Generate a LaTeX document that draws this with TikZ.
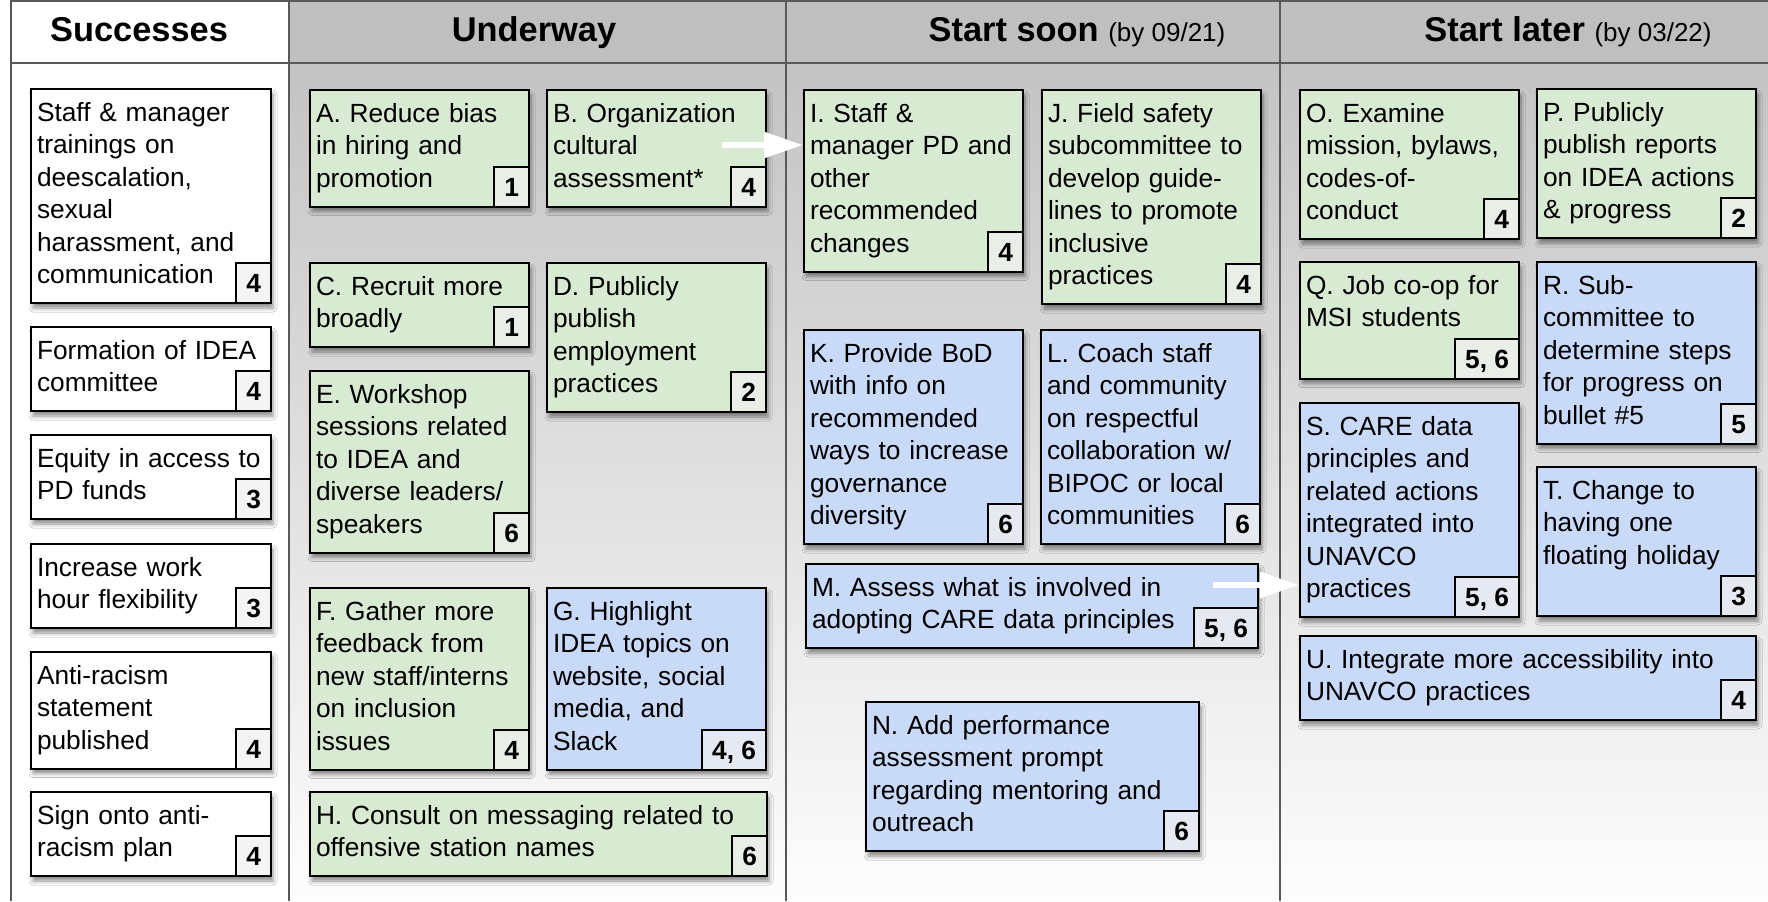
\documentclass[tikz,border=0pt]{standalone}
\usepackage{fontspec}
\setmainfont{Liberation Sans}
\usetikzlibrary{arrows.meta,shadows.blur}

\definecolor{goalgreen}{HTML}{D9EAD3}
\definecolor{planblue}{HTML}{C9DAF8}
\definecolor{headgray}{HTML}{BFBFBF}
\definecolor{rulegray}{HTML}{595959}
\definecolor{bodytop}{HTML}{C3C3C3}
\definecolor{bodymid}{HTML}{D9D9D9}
\definecolor{bodybot}{HTML}{FDFDFD}

\newcommand\cardfont{\fontsize{13.15pt}{16.25pt}\selectfont}
\newcommand\badgefont{\fontsize{13.15pt}{16pt}\selectfont\bfseries}
\newcommand\colheadfont{\fontsize{17.2pt}{20pt}\selectfont\bfseries}
\newcommand\subheadfont{\fontsize{13pt}{16pt}\selectfont\mdseries}

\begin{document}
\begin{tikzpicture}
[
	              x = 0.5pt,
	              y = -0.5pt,
	   rule/.style = { draw=rulegray, line width=1pt },
	colhead/.style = { anchor=base, font=\colheadfont },
	   card/.style = { draw=black, line width=1pt, fill=#1, anchor=north west,
	                   align=left, text width=103.5pt, inner xsep=3pt, inner ysep=4.75pt,
	                   font=\cardfont, execute at begin node=\strut, execute at end node=\strut,
	                   blur shadow={shadow xshift=1pt, shadow yshift=-2.5pt,
	                                shadow blur radius=2pt, shadow opacity=45} },
	 card/.default = white,
	   done/.style = { card=white, text width=114pt },
	  badge/.style = { draw=black, line width=1pt, fill=black!6, fill opacity=.7, text opacity=1,
	                   anchor=south east, minimum width=16pt, minimum height=20pt,
	                   inner xsep=5pt, inner ysep=0pt, text height=9.6pt, text depth=0pt,
	                   font=\badgefont },
	   flow/.style = { draw=white, line width=3pt, -{Triangle[width=12.5pt, length=19.5pt]},
	                   preaction={draw=black!25, transform canvas={shift={(0.8pt,-1pt)}}} }
]
	\useasboundingbox (0,0) rectangle (1768,901);

	% column backgrounds
	\fill [white]    (0,0)   rectangle (1768,901);
	\fill [headgray] (289,0) rectangle (1768,63);
	\shade [top color=bodytop, middle color=bodymid, bottom color=bodybot]
		(289,63) rectangle (1768,901);

	% table rules
	\draw [rule] (11,0.5) -- (1768,0.5) (11,63) -- (1768,63);
	\draw [rule] (11,0) -- (11,901) (289,0) -- (289,901)
		(786,0) -- (786,901) (1280,0) -- (1280,901);

	% column heads
	\node (succ)  at (139,41)  [colhead] {Successes};
	\node (under) at (534,41)  [colhead] {Underway};
	\node (soon)  at (1077,41) [colhead] {Start soon {\subheadfont (by 09/21)}};
	\node (later) at (1568,41) [colhead] {Start later {\subheadfont (by 03/22)}};

	% successes
	\node (s1)  at (30,88)  [done] {Staff \& manager\\trainings on\\deescalation,\\sexual\\harassment, and\\communication};
	\node (s1n) at (s1.south east) [badge] {4};
	\node (s2)  at (30,326) [done] {Formation of IDEA\\committee};
	\node (s2n) at (s2.south east) [badge] {4};
	\node (s3)  at (30,434) [done] {Equity in access to\\PD funds};
	\node (s3n) at (s3.south east) [badge] {3};
	\node (s4)  at (30,543) [done] {Increase work\\hour flexibility};
	\node (s4n) at (s4.south east) [badge] {3};
	\node (s5)  at (30,651) [done] {Anti-racism\\statement\\published};
	\node (s5n) at (s5.south east) [badge] {4};
	\node (s6)  at (30,791) [done] {Sign onto anti-\\racism plan};
	\node (s6n) at (s6.south east) [badge] {4};

	% underway
	\node (A)  at (309,89)  [card=goalgreen] {A. Reduce bias\\in hiring and\\promotion};
	\node (An) at (A.south east) [badge] {1};
	\node (B)  at (546,89)  [card=goalgreen] {B. Organization\\cultural\\assessment*};
	\node (Bn) at (B.south east) [badge] {4};
	\node (C)  at (309,262) [card=goalgreen] {C. Recruit more\\broadly};
	\node (Cn) at (C.south east) [badge] {1};
	\node (D)  at (546,262) [card=goalgreen] {D. Publicly\\publish\\employment\\practices};
	\node (Dn) at (D.south east) [badge] {2};
	\node (E)  at (309,370) [card=goalgreen] {E. Workshop\\sessions related\\to IDEA and\\diverse leaders/\\speakers};
	\node (En) at (E.south east) [badge] {6};
	\node (F)  at (309,587) [card=goalgreen] {F. Gather more\\feedback from\\new staff/interns\\on inclusion\\issues};
	\node (Fn) at (F.south east) [badge] {4};
	\node (G)  at (546,587) [card=planblue] {G. Highlight\\IDEA topics on\\website, social\\media, and\\Slack};
	\node (Gn) at (G.south east) [badge] {4, 6};
	\node (H)  at (309,791) [card=goalgreen, text width=222.5pt] {H. Consult on messaging related to\\offensive station names};
	\node (Hn) at (H.south east) [badge] {6};

	% start soon
	\node (I)  at (803,89)   [card=goalgreen] {I. Staff \&\\manager PD and\\other\\recommended\\changes};
	\node (In) at (I.south east) [badge] {4};
	\node (J)  at (1041,89)  [card=goalgreen] {J. Field safety\\subcommittee to\\develop guide-\\lines to promote\\inclusive\\practices};
	\node (Jn) at (J.south east) [badge] {4};
	\node (K)  at (803,329)  [card=planblue] {K. Provide BoD\\with info on\\recommended\\ways to increase\\governance\\diversity};
	\node (Kn) at (K.south east) [badge] {6};
	\node (L)  at (1040,329) [card=planblue] {L. Coach staff\\and community\\on respectful\\collaboration w/\\BIPOC or local\\communities};
	\node (Ln) at (L.south east) [badge] {6};
	\node (M)  at (805,563)  [card=planblue, text width=220pt] {M. Assess what is involved in\\adopting CARE data principles};
	\node (Mn) at (M.south east) [badge] {5, 6};
	\node (N)  at (865,701)  [card=planblue, text width=160.5pt] {N. Add performance\\assessment prompt\\regarding mentoring and\\outreach};
	\node (Nn) at (N.south east) [badge] {6};

	% start later
	\node (O)  at (1299,89)  [card=goalgreen] {O. Examine\\mission, bylaws,\\codes-of-\\conduct};
	\node (On) at (O.south east) [badge] {4};
	\node (P)  at (1536,88)  [card=goalgreen] {P. Publicly\\publish reports\\on IDEA actions\\\& progress};
	\node (Pn) at (P.south east) [badge] {2};
	\node (Q)  at (1299,261) [card=goalgreen] {Q. Job co-op for\\MSI students\\};
	\node (Qn) at (Q.south east) [badge] {5, 6};
	\node (R)  at (1536,261) [card=planblue] {R. Sub-\\committee to\\determine steps\\for progress on\\bullet \#5};
	\node (Rn) at (R.south east) [badge] {5};
	\node (S)  at (1299,402) [card=planblue] {S. CARE data\\principles and\\related actions\\integrated into\\UNAVCO\\practices};
	\node (Sn) at (S.south east) [badge] {5, 6};
	\node (T)  at (1536,466) [card=planblue] {T. Change to\\having one\\floating holiday\\};
	\node (Tn) at (T.south east) [badge] {3};
	\node (U)  at (1299,635) [card=planblue, text width=222pt] {U. Integrate more accessibility into\\UNAVCO practices};
	\node (Un) at (U.south east) [badge] {4};

	% hand-offs
	\coordinate (bout) at (722,145);
	\coordinate (mout) at (1213,585);
	\draw [flow] (bout) -- (bout -| I.west);
	\draw [flow] (mout) -- (mout -| S.west);

\end{tikzpicture}
\end{document}
